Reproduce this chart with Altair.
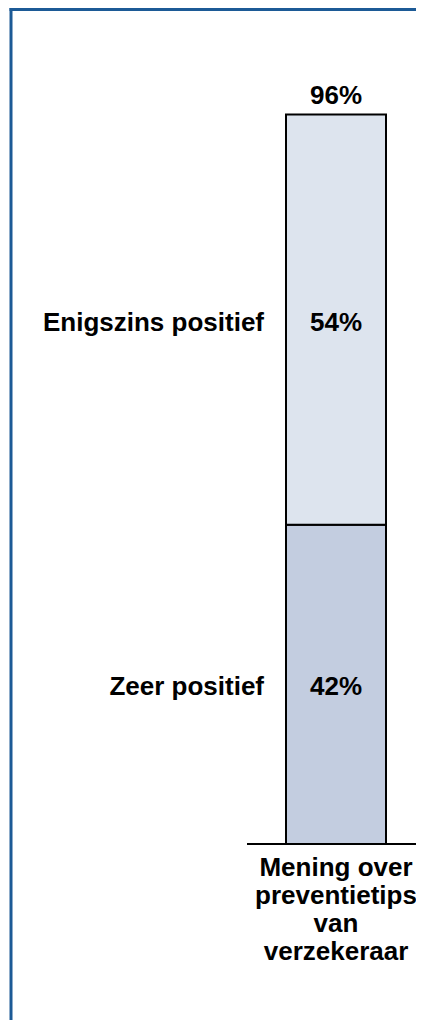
import altair as alt
import pandas as pd

# Data
category = "Mening over preventietips van verzekeraar"
category_lines = ["Mening over", "preventietips", "van", "verzekeraar"]
segments = ["Zeer positief", "Enigszins positief"]
values = [42, 54]
total_value = 96
segment_colors = ["#c3cde0", "#dde4ee"]

FONT = "Liberation Sans"
FS = 26
BORDER = "#1c5a96"

PLOT_W = 169
PLOT_H = 836

cat_label = "\n".join(category_lines)

starts, ends, mids = [], [], []
acc = 0
for v in values:
    starts.append(acc)
    ends.append(acc + v)
    mids.append(acc + v / 2)
    acc += v

df = pd.DataFrame({
    "cat": [cat_label] * len(segments),
    "segment": segments,
    "value": values,
    "start": starts,
    "end": ends,
    "mid": mids,
    "label": [f"{v}%" for v in values],
})
tot = pd.DataFrame({"cat": [cat_label], "total": [total_value], "label": [f"{total_value}%"], "zero": [0]})

xenc = alt.X(
    "cat:N",
    title=None,
    scale=alt.Scale(range=[39, 139], paddingInner=0, paddingOuter=0),
    axis=alt.Axis(
        labelExpr="split(datum.label, '\\n')",
        labelAngle=0,
        labelFont=FONT,
        labelFontSize=FS,
        labelFontWeight="bold",
        labelColor="black",
        labelLineHeight=28,
        labelPadding=10,
        labelLimit=400,
        ticks=False,
        domain=False,
        grid=False,
    ),
)
yscale = alt.Scale(domain=[0, 110], nice=False, zero=False)

bars = alt.Chart(df).mark_bar(stroke="black", strokeWidth=2).encode(
    x=xenc,
    y=alt.Y("start:Q", scale=yscale, axis=None),
    y2="end:Q",
    color=alt.Color("segment:N", scale=alt.Scale(domain=segments, range=segment_colors), legend=None),
)

baseline = alt.Chart(tot).mark_rule(color="black", strokeWidth=2).encode(
    x=alt.value(0), x2=alt.value(PLOT_W + 10),
    y=alt.Y("zero:Q", scale=yscale),
)

val_text = alt.Chart(df).mark_text(
    font=FONT, fontSize=FS, fontWeight="bold", color="black", baseline="middle", dy=3
).encode(
    x=alt.X("cat:N"),
    y=alt.Y("mid:Q", scale=yscale),
    text="label:N",
)

seg_text = alt.Chart(df).mark_text(
    font=FONT, fontSize=FS, fontWeight="bold", color="black", baseline="middle", align="right", dx=-72, dy=3
).encode(
    x=alt.X("cat:N"),
    y=alt.Y("mid:Q", scale=yscale),
    text="segment:N",
)

tot_text = alt.Chart(tot).mark_text(
    font=FONT, fontSize=FS, fontWeight="bold", color="black", baseline="alphabetic", dy=-10
).encode(
    x=alt.X("cat:N"),
    y=alt.Y("total:Q", scale=yscale),
    text="label:N",
)

border_left = alt.Chart(tot).mark_rule(color=BORDER, strokeWidth=3).encode(
    x=alt.value(-236), y=alt.value(0), y2=alt.value(1100)
)
border_top = alt.Chart(tot).mark_rule(color=BORDER, strokeWidth=3).encode(
    x=alt.value(-237.5), x2=alt.value(300), y=alt.value(1.5)
)

chart = alt.layer(bars, baseline, val_text, seg_text, tot_text, border_left, border_top).properties(
    width=PLOT_W,
    height=PLOT_H,
    autosize=alt.AutoSizeParams(type="none"),
    padding={"left": 239, "top": 0, "right": 0, "bottom": 176},
    background="white",
).configure_view(stroke=None)

chart.save("out.html", embed_options={"renderer": "svg", "actions": False})
